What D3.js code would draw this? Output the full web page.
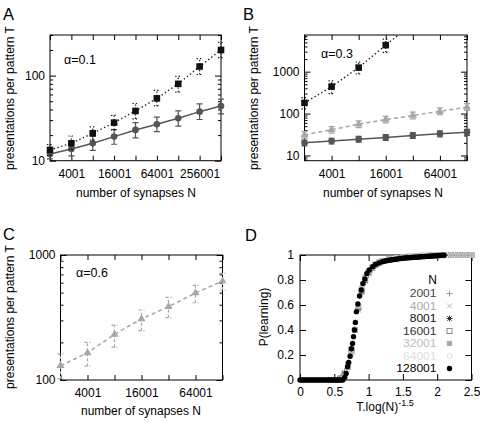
<!DOCTYPE html>
<html><head><meta charset="utf-8">
<script src="https://cdn.jsdelivr.net/npm/d3@7"></script>
<style>
html,body{margin:0;padding:0;background:#fff;}
svg{display:block;}
text{font-family:"Liberation Sans",Arial,Helvetica,sans-serif;}
</style></head><body>
<svg id="chart" width="480" height="422"></svg>
<script>
// ---------------- DATA ----------------
// Panel A (alpha = 0.1)
const nA = [2001,4001,8001,16001,32001,64001,128001,256001,512001];
const aSqT  = [13.4,16,21,28,38.4,54,80,128,200];
const aSqLo = [11.5,13.5,17.5,23,31,44,64,103,163];
const aSqHi = [15.5,19.5,25,34,47,67,98,158,246];
const aCiT  = [12,13.7,16,19.2,23,26.8,31.5,37.7,44];
const aCiLo = [10.5,11.4,13.2,15.6,18.5,22,25.5,30.5,35.5];
const aCiHi = [13.6,16.4,19.4,23.2,28,32.5,38.5,46.5,53];
const xLabelsA = [4001,16001,64001,256001];
const yMajorA = [10,100];
const yMinorA = [20,30,40,50,60,70,80,90,200,300];

// Panel B (alpha = 0.3)
const nB = [2001,4001,8001,16001,32001,64001,128001];
const bSqN  = [2001,4001,8001,16001];
const bSqT  = [180,440,1250,4300];
const bSqLo = [130,300,880,2900];
const bSqHi = [240,600,1700,6000];
const bSqLineN = [2001,4001,8001,16001,32001];
const bSqLineT = [180,440,1250,4300,14000];
const bGrT  = [31,41,56,72,90,113,143];
const bGrLo = [26,34,46,60,75,94,119];
const bGrHi = [37,49,67,86,108,136,172];
const bCiT  = [20,22,24.5,27,30,33,36];
const bCiLo = [17,18.8,20.8,22.8,25.4,27.8,30.2];
const bCiHi = [23.2,25.5,28.5,31.5,35,38.5,42];
const xLabelsBC = [4001,16001,64001];
const yMajorB = [10,100,1000];
const yMinorB = [8,9,20,30,40,50,60,70,80,90,200,300,400,500,600,700,800,900,2000,3000,4000,5000,6000,7000];

// Panel C (alpha = 0.6)
const nC = [2001,4001,8001,16001,32001,64001,128001];
const cT  = [130,165,232,308,386,497,619];
const cLo = [102,129,183,248,315,415,525];
const cHi = [161,200,275,363,458,572,714];
const yMajorC = [100,1000];
const yMinorC = [200,300,400,500,600,700,800,900];

// Panel D : P(learning) vs T.log(N)^-1.5
const dXTicks = [0,0.5,1,1.5,2,2.5];
const dYTicks = [0,0.2,0.4,0.6,0.8,1];
const legendN = ["2001","4001","8001","16001","32001","64001","128001"];
const dGrayX = [0.45,0.5,0.55,0.6,0.65,0.7,0.75,0.8,0.85,0.9,0.95,1.0,1.05,1.1,1.15,1.2,1.3,1.4,1.5,1.6,1.7,1.8,1.9,2.0,2.1,2.2,2.3,2.4,2.5];
const dP2001  = [0,0,0.01,0.03,0.07,0.14,0.26,0.41,0.56,0.69,0.78,0.84,0.88,0.91,0.93,0.945,0.96,0.97,0.978,0.984,0.989,0.992,0.995,0.997,0.998,0.999,1,1,1];
const dP4001  = [0,0,0.005,0.02,0.06,0.13,0.25,0.40,0.56,0.70,0.79,0.85,0.89,0.915,0.935,0.948,0.962,0.972,0.979,0.985,0.99,0.993,0.995,0.997,0.998,0.999,1,1,1];
const dP8001  = [0,0,0,0.015,0.05,0.12,0.24,0.40,0.57,0.71,0.80,0.86,0.895,0.92,0.937,0.95,0.964,0.973,0.98,0.986,0.99,0.993,0.996,0.998,0.999,1,1,1,1];
const dP16001 = [0,0,0,0.01,0.04,0.11,0.23,0.40,0.58,0.72,0.81,0.865,0.9,0.922,0.94,0.952,0.965,0.974,0.981,0.987,0.991,0.994,0.996,0.998,0.999,1,1,1,1];
const dP32001 = [0,0,0,0.008,0.035,0.1,0.22,0.40,0.59,0.73,0.82,0.87,0.9,0.925,0.942,0.954,0.967,0.976,0.982,0.988,0.992,0.995,0.997,0.998,0.999,1,1,1,1];
const dP64001 = [0,0,0,0.005,0.03,0.09,0.21,0.40,0.60,0.74,0.83,0.875,0.905,0.928,0.944,0.955,0.968,0.977,0.983,0.988,0.992,0.995,0.997,0.999,1,1,1,1,1];
const dX128001 = [0,0.025,0.05,0.075,0.1,0.125,0.15,0.175,0.2,0.225,0.25,0.275,0.3,0.325,0.35,0.375,0.4,0.425,0.45,0.475,0.5,0.525,0.55,0.575,0.6,0.625,
  0.65,0.673,0.693,0.71,0.73,0.75,0.766,0.78,0.795,0.807,0.822,0.844,0.868,0.893,0.917,0.945,0.975,1.01,1.06,1.1,1.15,1.2,
  1.225,1.25,1.275,1.3,1.325,1.35,1.375,1.4,1.425,1.45,1.475,1.5,1.525,1.55,1.575,1.6,1.625,1.65,1.675,1.7,1.725,1.75,1.775,1.8,1.825,1.85,1.875,1.9,1.925,1.95,1.975,2.0,2.025,2.05,2.075,2.1];
const dP128001 = [0,0,0,0,0,0,0,0,0,0,0,0,0,0,0,0,0,0,0,0,0,0,0,0,0,0,
  0.02,0.053,0.107,0.14,0.19,0.25,0.293,0.347,0.40,0.461,0.547,0.608,0.672,0.72,0.773,0.808,0.853,0.88,0.907,0.925,0.937,0.947,
  0.95,0.953,0.956,0.959,0.961,0.963,0.965,0.967,0.969,0.971,0.973,0.975,0.976,0.977,0.978,0.979,0.98,0.981,0.982,0.983,0.984,0.985,0.986,0.987,0.988,0.989,0.99,0.991,0.992,0.993,0.994,0.995,0.996,0.997,0.998,0.999];

// ---------------- DRAWING ----------------
const svg = d3.select("#chart");
const FONT = "'Liberation Sans',Arial,Helvetica,sans-serif";
let clipCount = 0;

function styleAxis(sel, fs) {
  sel.attr("font-size", fs).attr("font-family", FONT).attr("color", "#000");
  sel.select(".domain").remove();
  sel.selectAll(".tick line").attr("stroke-width", 1);
}

function logPanel(p) {
  const x = d3.scaleLog().base(2).domain(p.xDomain).range([p.x0, p.x1]);
  const y = d3.scaleLog().domain(p.yDomain).range([p.y1, p.y0]);
  const g = svg.append("g");
  const cid = "clip" + (clipCount++);
  g.append("clipPath").attr("id", cid).append("rect")
    .attr("x", p.x0).attr("y", p.y0).attr("width", p.x1 - p.x0).attr("height", p.y1 - p.y0);
  g.append("g").attr("transform", `translate(0,${p.y1})`)
    .call(d3.axisBottom(x).tickValues(p.xTicks).tickFormat(d => p.xLabels.includes(d) ? d : "")
      .tickSize(-5).tickSizeOuter(0).tickPadding(8.5)).call(s => styleAxis(s, 12));
  g.append("g").attr("transform", `translate(0,${p.y0})`)
    .call(d3.axisTop(x).tickValues(p.xTicks).tickFormat("").tickSize(-5).tickSizeOuter(0)).call(s => styleAxis(s, 12));
  g.append("g").attr("transform", `translate(${p.x0},0)`)
    .call(d3.axisLeft(y).tickValues(p.yMajor).tickFormat(d3.format("d")).tickSize(-6).tickSizeOuter(0).tickPadding(5)).call(s => styleAxis(s, 12));
  g.append("g").attr("transform", `translate(${p.x0},0)`)
    .call(d3.axisLeft(y).tickValues(p.yMinor).tickFormat("").tickSize(-3).tickSizeOuter(0)).call(s => styleAxis(s, 12));
  g.append("g").attr("transform", `translate(${p.x1},0)`)
    .call(d3.axisRight(y).tickValues(p.yMajor).tickFormat("").tickSize(-6).tickSizeOuter(0)).call(s => styleAxis(s, 12));
  g.append("g").attr("transform", `translate(${p.x1},0)`)
    .call(d3.axisRight(y).tickValues(p.yMinor).tickFormat("").tickSize(-3).tickSizeOuter(0)).call(s => styleAxis(s, 12));
  g.append("rect").attr("x", p.x0).attr("y", p.y0).attr("width", p.x1 - p.x0).attr("height", p.y1 - p.y0)
    .attr("fill", "none").attr("stroke", "#000").attr("stroke-width", 1);
  return {x, y, g, cid};
}

function series(P, s) {
  const {x, y, g, cid} = P;
  const line = d3.line().x(d => x(d[0])).y(d => y(d[1]));
  const lineData = (s.lineN || s.n).map((n, i) => [n, (s.lineT || s.t)[i]]);
  g.append("path").attr("clip-path", `url(#${cid})`).attr("d", line(lineData))
    .attr("fill", "none").attr("stroke", s.color).attr("stroke-width", s.lw)
    .attr("stroke-dasharray", s.dash || null);
  const eg = g.append("g").attr("stroke", s.color).attr("stroke-width", 1.2)
    .attr("stroke-dasharray", s.edash || null).attr("fill", "none");
  s.n.forEach((n, i) => {
    const cx = x(n), yl = y(s.lo[i]), yh = y(s.hi[i]);
    eg.append("path").attr("d", `M${cx},${yl}V${yh}M${cx-3},${yl}H${cx+3}M${cx-3},${yh}H${cx+3}`);
  });
  const mg = g.append("g");
  s.n.forEach((n, i) => {
    const cx = x(n), cy = y(s.t[i]);
    if (s.marker === "square") {
      mg.append("rect").attr("x", cx - 3.3).attr("y", cy - 3.3).attr("width", 6.6).attr("height", 6.6).attr("fill", s.mcolor || s.color);
    } else if (s.marker === "circle") {
      mg.append("circle").attr("cx", cx).attr("cy", cy).attr("r", 3.3).attr("fill", s.mcolor || s.color);
    } else {
      mg.append("path").attr("transform", `translate(${cx},${cy})`)
        .attr("d", d3.symbol(d3.symbolTriangle, 28)()).attr("fill", s.mcolor || s.color);
    }
  });
}

function titles(t) {
  svg.append("text").attr("x", t.lx).attr("y", t.ly).attr("font-size", 16.5).text(t.letter);
  svg.append("text").attr("x", t.xtx).attr("y", t.xty).attr("font-size", 12).attr("text-anchor", "middle").text(t.xtitle);
  svg.append("text").attr("transform", `translate(${t.ytx},${t.yty}) rotate(-90)`)
    .attr("font-size", 12).attr("text-anchor", "middle").text(t.ytitle);
  if (t.alpha) svg.append("text").attr("x", t.ax).attr("y", t.ay)
    .attr("font-family", "'Liberation Serif','Times New Roman',serif").attr("font-size", 12.5).text(t.alpha);
}

// ---- Panel A ----
const PA = logPanel({x0: 50, x1: 221, y0: 35, y1: 160.7, xDomain: [2001, 512001], yDomain: [10, 300],
  xTicks: nA, xLabels: xLabelsA, yMajor: yMajorA, yMinor: yMinorA});
series(PA, {n: nA, t: aCiT, lo: aCiLo, hi: aCiHi, color: "#555", lw: 1.5, marker: "circle"});
series(PA, {n: nA, t: aSqT, lo: aSqLo, hi: aSqHi, color: "#111", lw: 1.4, dash: "1.3,2.6", edash: "1.3,2", marker: "square"});
titles({letter: "A", lx: 3, ly: 20, xtitle: "number of synapses N", xtx: 136, xty: 197,
  ytitle: "presentations per pattern T", ytx: 14, yty: 98, alpha: "α=0.1", ax: 64, ay: 64});

// ---- Panel B ----
const PB = logPanel({x0: 304.5, x1: 467, y0: 35, y1: 160.7, xDomain: [2001, 128001], yDomain: [7.5, 7500],
  xTicks: nB, xLabels: xLabelsBC, yMajor: yMajorB, yMinor: yMinorB});
series(PB, {n: nB, t: bCiT, lo: bCiLo, hi: bCiHi, color: "#555", lw: 1.5, marker: "circle"});
series(PB, {n: nB, t: bGrT, lo: bGrLo, hi: bGrHi, color: "#a6a6a6", lw: 1.5, dash: "4,3", marker: "triangle"});
series(PB, {n: bSqN, t: bSqT, lo: bSqLo, hi: bSqHi, lineN: bSqLineN, lineT: bSqLineT, color: "#111", lw: 1.4, dash: "1.3,2.6", edash: "1.3,2", marker: "square"});
titles({letter: "B", lx: 243, ly: 20, xtitle: "number of synapses N", xtx: 383, xty: 197,
  ytitle: "presentations per pattern T", ytx: 258, yty: 98, alpha: "α=0.3", ax: 321, ay: 57.5});

// ---- Panel C ----
const PC = logPanel({x0: 60.5, x1: 222.5, y0: 255, y1: 380, xDomain: [2001, 128001], yDomain: [100, 1000],
  xTicks: nC, xLabels: xLabelsBC, yMajor: yMajorC, yMinor: yMinorC});
series(PC, {n: nC, t: cT, lo: cLo, hi: cHi, color: "#a6a6a6", lw: 1.5, dash: "4,3", edash: "3,2", marker: "triangle"});
titles({letter: "C", lx: 3, ly: 239.5, xtitle: "number of synapses N", xtx: 141, xty: 415,
  ytitle: "presentations per pattern T", ytx: 14, yty: 317, alpha: "α=0.6", ax: 76, ay: 277});

// ---- Panel D ----
(function () {
  const x0 = 300, x1 = 471.5, y0 = 255, y1 = 380;
  const x = d3.scaleLinear().domain([0, 2.5]).range([x0, x1]);
  const y = d3.scaleLinear().domain([0, 1]).range([y1, y0]);
  const g = svg.append("g");
  g.append("g").attr("transform", `translate(0,${y1})`)
    .call(d3.axisBottom(x).tickValues(dXTicks).tickFormat(d => String(d)).tickSize(-6).tickSizeOuter(0).tickPadding(7.5)).call(s => styleAxis(s, 12));
  g.append("g").attr("transform", `translate(0,${y0})`)
    .call(d3.axisTop(x).tickValues(dXTicks).tickFormat("").tickSize(-6).tickSizeOuter(0)).call(s => styleAxis(s, 12));
  g.append("g").attr("transform", `translate(${x0},0)`)
    .call(d3.axisLeft(y).tickValues(dYTicks).tickFormat(d => String(d)).tickSize(-6).tickSizeOuter(0).tickPadding(6)).call(s => styleAxis(s, 12));
  g.append("g").attr("transform", `translate(${x1},0)`)
    .call(d3.axisRight(y).tickValues(dYTicks).tickFormat("").tickSize(-6).tickSizeOuter(0)).call(s => styleAxis(s, 12));
  g.append("rect").attr("x", x0).attr("y", y0).attr("width", x1 - x0).attr("height", y1 - y0)
    .attr("fill", "none").attr("stroke", "#000").attr("stroke-width", 1);

  const markers = {
    plus:   (sel, c) => sel.append("path").attr("d", "M-3,0H3M0,-3V3").attr("stroke", c).attr("fill", "none"),
    cross:  (sel, c) => sel.append("path").attr("d", "M-2.5,-2.5L2.5,2.5M-2.5,2.5L2.5,-2.5").attr("stroke", c).attr("fill", "none"),
    star:   (sel, c) => sel.append("path").attr("d", "M-3,0H3M0,-3V3M-2.2,-2.2L2.2,2.2M-2.2,2.2L2.2,-2.2").attr("stroke", c).attr("fill", "none"),
    osq:    (sel, c) => sel.append("rect").attr("x", -2.5).attr("y", -2.5).attr("width", 5).attr("height", 5).attr("stroke", c).attr("fill", "none"),
    fsq:    (sel, c) => sel.append("rect").attr("x", -2.6).attr("y", -2.6).attr("width", 5.2).attr("height", 5.2).attr("fill", c),
    ocirc:  (sel, c) => sel.append("circle").attr("r", 2.5).attr("stroke", c).attr("fill", "none"),
    fcirc:  (sel, c) => sel.append("circle").attr("r", 2.7).attr("fill", c)
  };
  const dSeries = [
    {xs: dGrayX, ps: dP2001,  m: "plus",  c: "#8a8a8a", tc: "#444", lc: "#999"},
    {xs: dGrayX, ps: dP4001,  m: "cross", c: "#a8a8a8", tc: "#aaa", lc: "#bbb"},
    {xs: dGrayX, ps: dP8001,  m: "star",  c: "#555",    tc: "#111", lc: "#333"},
    {xs: dGrayX, ps: dP16001, m: "osq",   c: "#909090", tc: "#333", lc: "#888"},
    {xs: dGrayX, ps: dP32001, m: "fsq",   c: "#b0b0b0", tc: "#bbb", lc: "#aaa"},
    {xs: dGrayX, ps: dP64001, m: "ocirc", c: "#cccccc", tc: "#ddd", lc: "#ddd"},
    {xs: dX128001, ps: dP128001, m: "fcirc", c: "#000", tc: "#000", lc: "#000"}
  ];
  dSeries.forEach(s => {
    const sg = g.append("g").attr("stroke-width", 1);
    s.xs.forEach((xv, i) => {
      const t = sg.append("g").attr("transform", `translate(${x(xv)},${y(s.ps[i])})`);
      markers[s.m](t, s.c);
    });
  });
  // legend
  const lg = svg.append("g").attr("font-size", 10.8).attr("font-family", FONT);
  lg.append("text").attr("x", 437).attr("y", 280).attr("dy", "0.35em").attr("text-anchor", "end").attr("font-size", 12).text("N");
  legendN.forEach((lab, i) => {
    const yy = 293.5 + 12.5 * i;
    lg.append("text").attr("x", 436.5).attr("y", yy).attr("dy", "0.35em").attr("text-anchor", "end")
      .attr("fill", dSeries[i].tc).attr("textLength", lab.length * 6.7).attr("lengthAdjust", "spacingAndGlyphs").text(lab);
    const t = lg.append("g").attr("transform", `translate(449.5,${yy})`).attr("stroke-width", 1);
    markers[dSeries[i].m](t, dSeries[i].lc);
  });
  // titles
  svg.append("text").attr("x", 245).attr("y", 241).attr("font-size", 16.5).text("D");
  svg.append("text").attr("transform", "translate(268,317) rotate(-90)").attr("font-size", 12)
    .attr("text-anchor", "middle").text("P(learning)");
  const xt = svg.append("text").attr("x", 385).attr("y", 411).attr("font-size", 12).attr("text-anchor", "middle");
  xt.append("tspan").text("T.log(N)");
  xt.append("tspan").attr("dy", -5).attr("font-size", 9).text("-1.5");
})();
</script></body></html>
